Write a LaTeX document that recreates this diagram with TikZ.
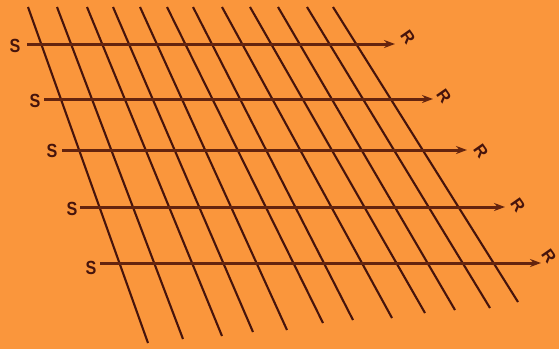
\documentclass[tikz,border=0pt]{standalone}
\usepackage{fontspec}
\setmainfont{Liberation Sans}
\usetikzlibrary{arrows.meta}
\definecolor{bg}{RGB}{250,150,60}
\definecolor{gridc}{RGB}{70,20,12}
\definecolor{rowc}{RGB}{100,36,14}
\tikzset{
  slant/.style={draw=gridc, line width=2.1pt},
  rowarrow/.style={draw=rowc, line width=3pt, -{Stealth[length=11pt,width=8pt]}},
  slabel/.style={font=\bfseries\fontsize{19}{19}\selectfont, text=gridc, inner sep=0pt, xscale=0.85},
  rlabel/.style={font=\bfseries\fontsize{17}{17}\selectfont, text=gridc, inner sep=0pt, rotate=-55}
}
\begin{document}
\begin{tikzpicture}[x=1pt,y=-1pt]
\fill[bg] (0,0) rectangle (559,349);
\useasboundingbox (0,0) rectangle (559,349);
% slanted lines
\foreach \i/\tx/\bx/\by in {1/28/148/343, 2/57/183/339, 3/87/222/336, 4/113/253/332, 5/140/287/330, 6/167/323/323, 7/193/353/320, 8/222/392/318, 9/250/425/313, 10/278/455/310, 11/307/490/308, 12/333/518/302}{
  \coordinate (t\i) at (\tx,7);
  \coordinate (b\i) at (\bx,\by);
  \draw[slant] (t\i) -- (b\i);
}
% rows
\foreach \i/\y/\sx/\ex/\lx/\ly/\rx/\ry in {1/44/27/395/15/46/408/37, 2/99/44/433/35/101/444/96, 3/150/62/467/52/151/481/151, 4/207/80/505/72/209/518/205, 5/263/100/541/91/268/549/256}{
  \node[slabel] (s\i) at (\lx,\ly) {S};
  \node[rlabel] (r\i) at (\rx,\ry) {R};
  \coordinate (a\i) at (\sx,\y);
  \coordinate (e\i) at (\ex,\y);
  \draw[rowarrow] (a\i) -- (e\i);
}
\end{tikzpicture}
\end{document}
